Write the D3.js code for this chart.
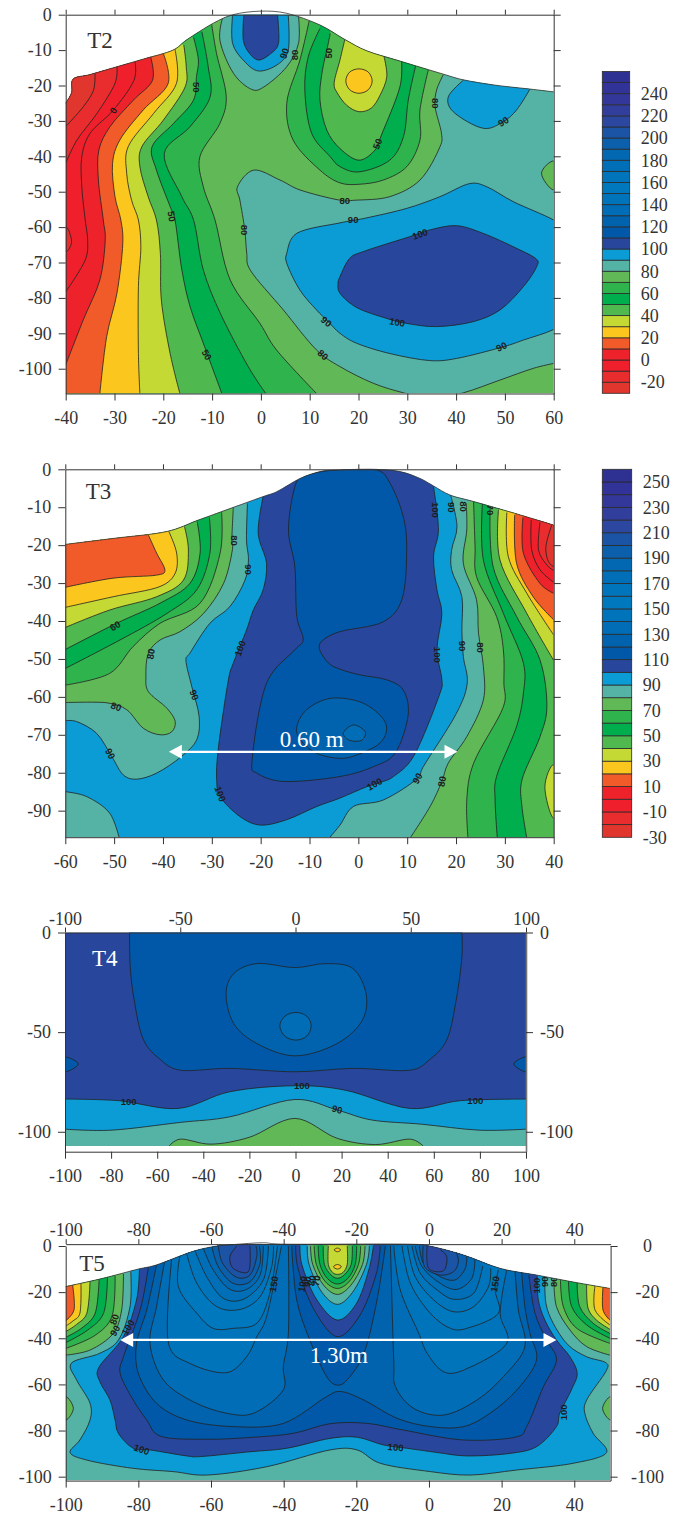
<!DOCTYPE html>
<html lang="en">
<head>
<meta charset="utf-8"/>
<title>T2 T3 T4 T5 contour sections</title>
<style>
body { margin: 0; background: #fff; }
svg { display: block; }
.tick text { font-family: "Liberation Serif", serif; font-size: 18px; fill: #333; }
.axis path, .axis line { stroke: #333; }
.lab { font-family: "Liberation Sans", sans-serif; font-size: 9.5px; font-weight: bold; fill: #1c1c1c; text-anchor: middle; }
.big { font-family: "Liberation Serif", serif; font-size: 23px; }
</style>
</head>
<body>
<svg width="684" height="1514"></svg>
<script src="https://d3js.org/d3.v7.min.js"></script>
<script>
// legend bands, from -30 upward in steps of 10
var bandStart = d3.range(-30, 260, 10);
var bandColors = ["#e0362e","#e92c2d","#ef1f2b","#ee222a","#f15a29","#fbc61e","#c4d933","#4fb84f","#00ae4d","#2fb34d","#61b857","#55b3a5","#0b9bd5","#28479c","#0258a8","#0163ae","#016db6","#0074bb","#0078be","#0075bc","#006fb7","#0268b2","#0b5fab","#1b53a5","#2b47a0","#313e9b","#333799","#313398","#2e3192"];
var t2LegendTicks = [-20,0,20,40,60,80,100,120,140,160,180,200,220,240];
var t3LegendTicks = [-30,-10,10,30,50,70,90,110,130,150,170,190,210,230,250];

var t2XTicks = [-40,-30,-20,-10,0,10,20,30,40,50,60];
var t2YTicks = [0,-10,-20,-30,-40,-50,-60,-70,-80,-90,-100];
var t3XTicks = [-60,-50,-40,-30,-20,-10,0,10,20,30,40];
var t3YTicks = [0,-10,-20,-30,-40,-50,-60,-70,-80,-90];
var t4TopTicks = [-100,-50,0,50,100];
var t4XTicks = [-100,-80,-60,-40,-20,0,20,40,60,80,100];
var t4YTicks = [0,-50,-100];
var t5XTicks = [-100,-80,-60,-40,-20,0,20,40];
var t5YTicks = [0,-20,-40,-60,-80,-100];

// ground surface of each section
var t2Terrain = [[-40,-25],[-38.8,-22],[-38.5,-18.2],[-35,-16.9],[-29.5,-14.7],[-24,-12.5],[-18,-10],[-15.2,-7.1],[-9.75,-2.4],[-5.7,0],[-0.2,1],[5.3,0.4],[12.1,-2.9],[17.2,-7],[21.7,-10.2],[28.5,-13.1],[37.4,-16.8],[41.5,-18.4],[48,-19.9],[55.1,-21],[60,-21.8]];
var t3Terrain = [[-60,-19.8],[-50,-18.2],[-39.2,-16.4],[-33,-13.5],[-28.3,-11.3],[-19.5,-7.2],[-16.7,-5.9],[-11.9,-2.4],[-7.8,-0.6],[-4.4,-0.2],[3.1,0],[8.5,-0.6],[12.6,-2.4],[15.4,-4.4],[18.8,-6.8],[23.6,-8.5],[32,-11.6],[40,-14.7]];
var t5Terrain = [[-100,-17.6],[-90,-14.1],[-80,-10],[-75,-8.2],[-65.3,-2.5],[-59.4,-0.3],[-53.9,0.6],[-45.6,1.4],[-40,0.8],[-6,0.8],[0,0],[9.5,-3.9],[19.6,-9.7],[29.6,-12.6],[40,-15.7],[49.8,-18.4]];

// contours: [band below/inside, closing corners (null = closed loop, "up" = closed over the ground), points]
var TL2 = [[-40,5]], BL2 = [[-40,-108],[-40,5]];
var t2Contours = [
 [60,BL2,[[-10.1,-2.6],[-9.1,-10.9],[-7.1,-23.2],[-8.4,-30.7],[-12.5,-40.1],[-11.8,-48.6],[-9.4,-58],[-6.3,-74.9],[-0.2,-87.2],[3.2,-94.7],[11.4,-107]]],
 [50,BL2,[[-12.1,-4.8],[-10.8,-14.7],[-10.4,-23.2],[-14.5,-31.6],[-19.8,-39.2],[-16.2,-51.4],[-13.8,-58],[-11.8,-72.1],[-8.3,-84.4],[-2.6,-99.4],[1,-107]]],
 [40,BL2,[[-13.8,-6.4],[-12.8,-12.8],[-13.2,-17.5],[-13.8,-24.1],[-17.9,-30.7],[-22.3,-37.3],[-21.4,-43.9],[-18.6,-54.2],[-17.6,-58],[-16.2,-72.1],[-14.5,-82.5],[-11.8,-92.8],[-8,-107]]],
 [30,BL2,[[-15.8,-8.6],[-15.3,-14.7],[-15.5,-20.3],[-20,-29.8],[-24.4,-37.3],[-24.8,-42.9],[-23.1,-51.4],[-21.4,-58],[-20.6,-67.4],[-20.4,-80.6],[-18.6,-95.7],[-16.6,-107]]],
 [20,BL2,[[-17.6,-9.8],[-17.3,-19.4],[-22,-27.9],[-27.2,-37.3],[-27.5,-44.8],[-26.5,-52.4],[-25.1,-58],[-24.6,-65.5],[-25.1,-76.8],[-25.1,-95.7],[-24.8,-107]]],
 [10,BL2,[[-20,-10.9],[-19,-19.4],[-24.1,-26.9],[-28.9,-35.4],[-30.4,-42],[-29.9,-51.4],[-28.7,-58],[-28.3,-64.6],[-29.5,-78.7],[-31.6,-90.9],[-33,-107]]],
 [0,TL2,[[-22.6,-11.9],[-22.2,-18.5],[-26.1,-24.1],[-30.9,-31.6],[-33.2,-38.2],[-33.3,-46.7],[-32.3,-58],[-31.9,-63.6],[-33,-74.9],[-36.4,-86.2],[-40,-98.9]]],
 [-10,TL2,[[-25.8,-13.3],[-26,-18.5],[-30.2,-26.9],[-35,-33.5],[-36.7,-40.1],[-36.7,-48.6],[-36,-58],[-35.5,-63.7],[-36,-69.3],[-40,-78.3]]],
 [-20,TL2,[[-29.5,-14.7],[-29.9,-19.4],[-33.6,-27.9],[-37.7,-35.4],[-40,-42]]],
 [-30,TL2,[[-34,-16.6],[-34.3,-21.3],[-36.4,-26],[-40,-31.6]]],
 [-20,null,[[-40,-59.9],[-38.8,-64.1],[-40,-66.9],[-42,-63.4]]],
 [80,[[60,5]],[[37.4,-16.9],[36,-21.3],[35.7,-26],[37,-33.5],[36.7,-37.3],[32.6,-46.7],[26.4,-51.4],[19.3,-52.4],[16.2,-52.4],[8,-49.5],[3.9,-46.7],[-1.5,-43.9],[-4.8,-48.6],[-4.3,-52.4],[-3.3,-60.8],[-2.9,-67.4],[-2.2,-72.1],[4.6,-83.4],[11.4,-94.7],[16.2,-99.4],[23,-104.1],[29.2,-106.8],[35,-108.5],[41.5,-106.8],[49,-103.2],[55.8,-99.9],[60,-98.5]]],
 [70,null,[[60,-41.3],[57.5,-44.8],[60,-49.5],[62,-45]]],
 [60,"up",[[9.9,-1.7],[8,-12.8],[5.3,-25],[6.6,-35.4],[12.1,-43.9],[16.2,-47.5],[20.1,-47.9],[25.1,-46.7],[29.9,-42.9],[32.6,-35.4],[32.6,-26.9],[34.3,-15.6]]],
 [50,"up",[[12.1,-3.9],[9.7,-11.9],[9,-21.3],[10.4,-33.5],[14.2,-40.1],[16.2,-42.9],[20.1,-44.4],[26.4,-41.1],[29.2,-34.5],[30.2,-24.1],[31.7,-14.5]]],
 [40,"up",[[14.2,-5.3],[13.8,-8.1],[12.5,-16.6],[12.1,-24.1],[13.5,-32.6],[16.2,-37.8],[20.1,-41.1],[23.4,-38.2],[24.7,-34],[28.5,-20.3],[28.8,-12.8]]],
 [30,"up",[[17.2,-7],[16.2,-12.8],[15,-19.4],[15.6,-22],[17.6,-25.6],[20.1,-27.4],[22.6,-26.4],[24.4,-22.8],[25.8,-17.5],[25.2,-11.7]]],
 [20,null,[[20.1,-15.3],[22,-16.2],[22.8,-18.7],[22,-21.2],[20.1,-22.2],[18.2,-21.2],[17.4,-18.7],[18.2,-16.2]]],
 [80,"up",[[-7.8,-0.6],[-8.4,-7.2],[-5.6,-16.6],[-1.9,-21.1],[0.5,-20.5],[5.3,-14.7],[7.7,-8.1],[7.7,-0.4]]],
 [90,"up",[[-5.8,0],[-5.8,-8.1],[-3.5,-13],[-0.5,-15.9],[3.5,-14],[5.6,-10],[5.6,0]]],
 [100,"up",[[-3.5,0],[-3.6,-7.2],[-2.4,-10.8],[-0.5,-12.8],[2,-11],[3.6,-8.1],[3.4,0]]],
 [90,"up",[[41.5,-18.5],[38.4,-23.2],[39.4,-27.4],[45.6,-32.1],[49.7,-30.2],[52.4,-26.9],[55.1,-21.1]]],
 [90,null,[[16.2,-90],[13.8,-86.7],[11.4,-83.4],[8,-77.8],[5.3,-70.2],[5.3,-67.4],[7.3,-61.8],[16.2,-58.8],[21.3,-57.5],[29.9,-54.7],[36.7,-51.4],[42.8,-47.7],[46.3,-48.6],[51.7,-52.8],[60,-58],[64,-62],[64,-85],[60,-88.9],[53.8,-91.9],[49.7,-93.8],[40.1,-97.1],[34.6,-97.7],[26.4,-95.7],[19.6,-92.8]]],
 [100,null,[[16.2,-78.7],[19.6,-82.7],[25.8,-85.8],[29.9,-87.2],[36,-88.1],[43.5,-86.7],[49,-83.4],[53.8,-76.8],[56.5,-71.2],[56.5,-69.1],[52.4,-66],[45.6,-61.8],[40.1,-59.6],[34.6,-60.8],[30.5,-62.7],[21,-66.9],[18.2,-68.8],[16.2,-74],[15.8,-76]]]
];
var t2Labels = [["0",-30.2,-27.1,-60],["50",-13.2,-20.5,90],["50",-18.3,-57,80],["50",-11.1,-96.1,60],["80",-3.4,-60.8,90],["90",4.8,-10.9,-70],["80",7,-11.4,-90],["50",13.8,-10.9,-90],["80",12.7,-96.1,40],["90",13.4,-86.7,40],["100",32.6,-62,-20],["100",27.9,-86.9,10],["90",49.3,-93.8,-25],["90",49.7,-30.2,-30],["50",23.9,-36.5,-70],["80",35.7,-25,90],["80",17.2,-52.4,0],["90",18.9,-57.8,0]];

var TL3 = [[-60,5]], RE3 = [[45,5]], BR3 = [[45,-100],[45,5]];
var t3Contours = [
 [80,TL3,[[-22.7,-9],[-22.9,-18.6],[-22.5,-23.9],[-23.2,-29.2],[-26.3,-36.2],[-30.4,-40.6],[-34.5,-48.5],[-35.3,-50.3],[-34.1,-57.3],[-32.6,-65.2],[-33.1,-71.3],[-36.2,-75.7],[-41.3,-80.1],[-45.4,-81.7],[-48.1,-80.6],[-50.5,-75.7],[-53.6,-69.6],[-57.7,-66.5],[-60,-66.3]]],
 [80,[[-60,-98]],[[-60,-85],[-55.6,-86.3],[-50.9,-90.7],[-48.8,-98]]],
 [70,TL3,[[-25.6,-10],[-25.9,-18.6],[-25.8,-21.3],[-27.6,-30.1],[-31.7,-38],[-36.5,-42.8],[-40.6,-45],[-43,-48.5],[-43.5,-54.7],[-43,-58.6],[-39.2,-63],[-37.5,-66.5],[-38.2,-69.2],[-40.6,-70],[-44,-68.3],[-47.4,-63.4],[-50.9,-61.7],[-54.3,-61.4],[-60,-61.5]]],
 [60,TL3,[[-28,-11.3],[-28.3,-22.1],[-32.4,-35.3],[-40.6,-40.6],[-46.1,-46.7],[-50.9,-53.8],[-60,-56.9]]],
 [50,TL3,[[-30.5,-12.7],[-30.4,-22.1],[-33.1,-31.8],[-39.2,-38],[-48.8,-45],[-60,-52.5]]],
 [40,TL3,[[-33,-13.8],[-32.4,-22.1],[-34.5,-30.1],[-40.6,-35.3],[-49.5,-40.6],[-60,-47.5]]],
 [30,TL3,[[-35.6,-15.1],[-34.8,-21.3],[-35.8,-29.2],[-41.3,-33.6],[-50.9,-37.1],[-60,-41.7]]],
 [20,TL3,[[-38.8,-16.4],[-37.2,-22.1],[-37.5,-27.4],[-40.6,-30.9],[-50.2,-33.6],[-60,-36.4]]],
 [10,TL3,[[-43,-17.3],[-41.3,-22.1],[-39.6,-26.7],[-41.3,-27.9],[-50.2,-28.7],[-60,-31.1]]],
 [80,BR3,[[18.9,-6.8],[20.2,-15.1],[19.1,-21.3],[19.1,-26.5],[21.2,-33.6],[21.2,-42.4],[21.5,-49.4],[22.3,-56.4],[20.1,-64.3],[13.3,-78.4],[12.1,-81.5],[5.1,-87.2],[-1,-88.9],[-3.75,-93.8],[-5.8,-97],[-7,-99]]],
 [70,BR3,[[22.1,-9],[22.2,-16],[21.5,-24.8],[24.2,-34.4],[24.6,-43.2],[25.6,-52],[25.6,-60.8],[22.2,-70.5],[18.4,-77.5],[17.1,-82.3],[14.7,-88.9],[10.2,-98]]],
 [60,BR3,[[23.6,-8.5],[23.9,-20.4],[24.2,-28.3],[28.3,-38.8],[29.7,-47.6],[29.8,-56.4],[29.7,-62.6],[23.6,-77.5],[22.2,-87.2],[22.5,-98]]],
 [50,BR3,[[25.4,-9.1],[25.6,-23.9],[29.7,-38],[33.8,-51.1],[33.8,-59],[32.4,-67.8],[28.3,-81],[28,-87.2],[28.5,-98]]],
 [40,BR3,[[27,-9.8],[27.6,-25.7],[32.4,-38.8],[37.2,-50.3],[38.6,-62.6],[37.2,-70.5],[33.5,-81.9],[33.5,-88.9],[34.6,-98]]],
 [30,RE3,[[28.7,-10.7],[29,-23.9],[34.5,-38],[40,-50.4]]],
 [20,RE3,[[30.4,-11.4],[30.7,-23],[34.5,-32.7],[40,-43.7]]],
 [10,RE3,[[32,-12],[32.4,-24.8],[35.8,-33.6],[40,-39.7]]],
 [0,RE3,[[33.7,-12.7],[33.8,-22.1],[37.2,-30.1],[40,-32.7]]],
 [-10,RE3,[[35.4,-13.4],[35.5,-21.3],[37.2,-26.5],[40,-29.8]]],
 [-20,RE3,[[37.2,-14],[36.9,-21.3],[38.6,-25.2],[40,-26.7]]],
 [-30,RE3,[[39.6,-14.7],[38.4,-20.4],[38.9,-24.3],[40,-25.7]]],
 [30,null,[[40,-77.9],[38.2,-83.7],[40,-92],[42,-85]]],
 [100,"up",[[-19.5,-7.2],[-20.5,-16.9],[-18.8,-24.8],[-19.5,-31.8],[-21.5,-37.1],[-22.9,-42.4],[-25.6,-51.1],[-26.6,-55.5],[-28.7,-74],[-29,-81.9],[-28.3,-86.3],[-24.2,-91.6],[-20.1,-93.8],[-14.7,-92.4],[-8.5,-88.9],[-3.8,-86.7],[1.7,-83.7],[5.1,-82.3],[7.2,-81],[11.3,-75.7],[16.7,-59.1],[17.1,-55.5],[16.1,-47.6],[17.1,-38],[16.1,-31.8],[15.4,-23],[16.4,-16],[15.4,-4.6]]],
 [110,null,[[-5.1,-0.2],[3.8,-0.2],[6.5,-3.7],[9.2,-12.5],[9.9,-21.3],[8.9,-34.4],[5.1,-40.2],[-3.75,-42.8],[-7.2,-45],[-8,-47.2],[-6.1,-51.1],[-3.75,-52.7],[0.3,-54.2],[5.8,-55.5],[9.2,-58.2],[10.2,-64.8],[7.5,-74.9],[3.1,-78.4],[-3.75,-81],[-15.4,-82.3],[-20.8,-80.1],[-21.8,-77.5],[-18.8,-56.4],[-13,-47.6],[-11.3,-45],[-12.6,-38.8],[-13,-25.7],[-14.3,-16],[-13,-4.6],[-11.3,-1.9]]],
 [120,null,[[-12.6,-67.9],[-10.6,-63.4],[-5.8,-60.4],[0.3,-61.3],[4.4,-64.8],[5.8,-68.3],[4.4,-72.2],[-0.3,-75.3],[-3.75,-76.2],[-8.5,-74.9],[-11.9,-71.3]]],
 [130,null,[[-3.1,-69.6],[-1,-67.4],[1.4,-69.2],[0.7,-71.4],[-1.7,-71.5]]]
];
var t3Labels = [["60",-49.8,-41.3,-30],["80",-42.5,-48.7,-80],["100",-24.2,-47.2,-70],["90",-22.5,-26.4,90],["80",-25.4,-18.8,90],["80",-49.6,-62.6,20],["90",-33.6,-59.5,70],["90",-50.8,-75,60],["100",-28.3,-85.6,70],["100",15.7,-10.7,90],["90",19,-10,90],["80",21.4,-9.8,90],["70",27,-10.7,90],["100",16.1,-48.9,90],["90",21.2,-46.6,90],["80",24.9,-47,90],["100",3.3,-83,-30],["90",12.1,-81.5,-60],["80",17.1,-82.3,-80]];

var BOT4 = [[100,-112],[-100,-112]];
var t4Contours = [
 [110,"up",[[-72,0],[-71.7,-17.2],[-70,-33.9],[-65.9,-54],[-58.4,-64],[-50,-69.1],[-28.5,-68.2],[-0.2,-69.9],[24.8,-68.2],[49.8,-69.1],[58,-64],[65.6,-54],[69.7,-33.9],[72.2,-12.2],[72.2,0]]],
 [120,null,[[-0.2,-17.6],[13.1,-15.6],[24.8,-18],[30.6,-30.6],[29,-44],[18.1,-55.7],[-0.2,-61.9],[-16.8,-55.7],[-26.8,-45.7],[-30.1,-30.6],[-26.8,-20.6],[-16.8,-15.6]]],
 [130,null,[[0.2,-40.1],[4.9,-42],[6.8,-46.8],[4.9,-52],[0.2,-54],[-4.6,-52],[-6.8,-46.8],[-4.6,-42]]],
 [110,null,[[-100,-62.4],[-94.2,-66],[-100,-69.9],[-102,-66]]],
 [110,null,[[100,-62.4],[94.7,-66],[100,-69.9],[102,-66]]],
 [90,BOT4,[[-100,-83.6],[-76.7,-84.4],[-50.9,-88.3],[-28.5,-79.9],[-0.2,-76.9],[21.5,-79.1],[49.8,-88.3],[71.5,-84.4],[100,-83.6]]],
 [80,BOT4,[[-100,-98.7],[-80,-99.2],[-50,-95.3],[-28.5,-92.5],[-0.2,-83.8],[18.1,-89.1],[33.1,-94.1],[54.7,-96.2],[79.7,-99.2],[100,-98.7]]],
 [70,BOT4,[[-55,-107.4],[-50,-103.7],[-36.7,-106.2],[-20.1,-102.8],[-0.2,-93.3],[18.1,-103.3],[34.8,-106.4],[49.8,-103.7],[55.6,-107.4]]]
];
var t4Labels = [["100",-72.4,-85,0],["100",2.8,-77.1,0],["90",18.1,-88.8,15],["100",78,-84.4,0]];

var TL5 = [[-100,8]], TR5 = [[52,8]];
var t5Contours = [
 [70,TL5,[[-84.1,-12.1],[-84.6,-27.7],[-86.9,-37.9],[-93.3,-45.1],[-100,-47.3]]],
 [60,TL5,[[-86.4,-13],[-87.3,-30.6],[-92,-38.8],[-100,-44.4]]],
 [50,TL5,[[-88.5,-13.6],[-89.6,-29.2],[-94,-36.5],[-100,-41.9]]],
 [40,TL5,[[-90.8,-14.3],[-91.9,-29.2],[-95.5,-35.5],[-100,-39.6]]],
 [30,TL5,[[-93.3,-15.2],[-94.2,-29.2],[-97,-34],[-100,-37.1]]],
 [20,TL5,[[-95.8,-16.2],[-96.1,-29.2],[-98,-32.5],[-100,-34.7]]],
 [10,TL5,[[-98.1,-16.9],[-97.7,-27.7],[-100,-32.4]]],
 [70,TR5,[[34.4,-14.3],[35.1,-26.3],[38.8,-36.4],[43.4,-43.6],[49.8,-47.3]]],
 [60,TR5,[[36.2,-14.7],[37,-26.3],[40.7,-35.7],[49.8,-42.2]]],
 [50,TR5,[[38.4,-15.2],[39.3,-26.3],[43.4,-34.2],[49.8,-40]]],
 [40,TR5,[[40.8,-15.8],[41.5,-26.3],[45.2,-33.5],[49.8,-37.9]]],
 [30,TR5,[[43.4,-16.5],[43.8,-27],[46.1,-32.1],[49.8,-36.1]]],
 [20,TR5,[[45.7,-17.2],[45.7,-27.7],[49.8,-34.2]]],
 [10,TR5,[[47.9,-17.9],[47.9,-27.7],[49.8,-32.1]]],
 [70,null,[[-100,-65.3],[-97.9,-70.4],[-100,-75.4],[-102,-70]]],
 [70,null,[[50,-65.3],[47.8,-70.4],[50,-75.4],[52,-70]]],
 [90,"up",[[-82.1,-11.1],[-82.3,-26.3],[-85.5,-40.8],[-90.6,-46.5],[-98.5,-50.9],[-97,-58.1],[-93.3,-68.2],[-93.3,-75.4],[-96.1,-84.1],[-98.8,-89.5],[-94.2,-92.8],[-81.4,-96.4],[-70.4,-97.8],[-61.2,-99.3],[-44.7,-95.7],[-27.2,-88.4],[-19.8,-88.4],[-13.4,-94.2],[0.4,-97.8],[11.3,-99.3],[24.2,-97.1],[39.7,-94.2],[48.9,-89.5],[45.2,-81.2],[42.9,-72.5],[43.4,-66.8],[48.9,-53.8],[48.7,-50.6],[43.4,-48],[38.3,-42.9],[34.2,-33.5],[32.2,-24.9],[31.9,-13.7]]],
 [100,"up",[[-79.7,-10],[-80.5,-23.4],[-84.1,-39.3],[-91,-53],[-90.6,-58.8],[-87.8,-66.8],[-86.4,-75.4],[-85.5,-81.2],[-81.4,-87.7],[-76.8,-88.4],[-66.7,-91],[-63,-91.3],[-49.3,-89.2],[-39.2,-87.7],[-27.2,-83.4],[-19.8,-82.9],[-12.4,-86.3],[-6,-87.7],[2.2,-89.5],[10.4,-91],[22.3,-89.9],[29.6,-87],[35.1,-78.3],[36,-72.5],[39.2,-62.4],[40.8,-55.2],[38.8,-48],[35.1,-40.8],[31.9,-32.1],[30.1,-23.4],[29.8,-13]]],
 [110,"up",[[-77.2,-9],[-79.5,-27.7],[-84.1,-48],[-85,-55.2],[-81.4,-66.8],[-77.7,-75.4],[-74,-82.4],[-61.2,-83.8],[-48.3,-82.9],[-37.3,-81.2],[-27.1,-77],[-17,-76.9],[-7,-79.8],[9.5,-84.1],[24.2,-82.7],[26.9,-78.3],[31.5,-61],[35.1,-49.4],[32.4,-40.8],[29.2,-29.2],[27.5,-12.6]]],
 [120,"up",[[-75,-8.2],[-77.7,-27.7],[-80.5,-42.2],[-80,-55.2],[-75,-68.2],[-66.7,-75.4],[-53.9,-78.3],[-40.1,-76.9],[-28.2,-65.3],[-24.3,-63.1],[-17.9,-66.8],[-8.8,-74.7],[0.4,-78.3],[9.5,-78.3],[16.8,-72.5],[24.2,-62.4],[29.6,-49.4],[27.8,-37.9],[26.4,-26.3],[25.5,-11.1]]],
 [130,"up",[[-72.7,-6.1],[-75,-26.3],[-76.8,-42.2],[-73.1,-58.1],[-64.9,-67.5],[-55.7,-72.5],[-48.3,-72.5],[-40.1,-62.4],[-40.1,-52.3],[-38.7,-37.9],[-38.7,0]]],
 [130,"up",[[-10.6,0],[-9.7,-49.4],[-9.2,-61],[-4.2,-70.4],[4,-73.3],[13.2,-66.8],[20.5,-56.6],[26.4,-43.6],[24.6,-27.7],[23.7,-11.1]]],
 [140,"up",[[-70.8,-5.3],[-71.7,-42.2],[-65.8,-50.9],[-55.7,-54.9],[-50.2,-48],[-47.4,-39.3],[-44.7,-30.6],[-40.6,0]]],
 [140,"up",[[-9.7,0],[-7.9,-19],[-2.8,-37.9],[-0.5,-46.5],[4,-54.5],[9.5,-53.8],[21.4,-42.2],[19.6,-29.2],[21.4,-10.4]]],
 [150,"up",[[-68.5,-3.9],[-69,-17.6],[-63.9,-29.2],[-59.4,-35.7],[-53.9,-35.7],[-47.4,-33.5],[-43.8,-20.5],[-41.7,0]]],
 [150,"up",[[-7.4,0],[-5.1,-16.2],[0.4,-29.2],[5.9,-35.7],[10.4,-35.7],[19.1,-29.2],[18.2,-19],[19.1,-10.4]]],
 [160,"up",[[-66.7,-3.2],[-63.9,-16.2],[-58.4,-26.3],[-52,-27.5],[-46.5,-22],[-43.3,-9],[-42.8,0]]],
 [160,"up",[[-5.9,0],[-3.8,-13.3],[1.3,-23.4],[6.8,-28.5],[12.3,-26.3],[16.4,-17.6],[17,-9.7]]],
 [170,"up",[[-64.4,-2],[-61.2,-13.3],[-56.6,-22.7],[-51.1,-23.1],[-45.6,-14.7],[-44.2,0]]],
 [170,"up",[[-4.7,0],[-2.4,-11.8],[2.2,-19],[6.8,-23.1],[12.3,-20.5],[14.8,-8.7]]],
 [180,"up",[[-62.1,-1],[-59.4,-10.4],[-54.8,-18.8],[-50.2,-18.8],[-46.5,-12.6],[-45.6,0]]],
 [180,"up",[[-3.8,0],[-1.9,-9],[3.1,-16.2],[7.7,-18.8],[11.8,-14],[12.7,-4.6]]],
 [190,"up",[[-59.8,0],[-58,-9],[-53.9,-16.2],[-49.3,-15.5],[-46.5,-7.5],[-46.7,0]]],
 [190,"up",[[-2.6,0],[-1.5,-7.5],[3.1,-13.3],[7.2,-14.7],[10,-9.7],[10.4,-3.9]]],
 [200,"up",[[-58,0],[-56.8,-7.5],[-52.9,-13.6],[-49.3,-12.6],[-47.4,-4.6],[-47.6,0]]],
 [200,"up",[[-1.6,0],[-1.2,-9],[3.1,-12.6],[6.8,-11.1],[8.1,-6.8],[7.5,-2.5]]],
 [210,"up",[[-52.9,0],[-54.8,-4.6],[-53.9,-9.7],[-49.7,-11.1],[-49.3,0]]],
 [210,"up",[[-0.5,0],[-0.1,-9.7],[4,-10.7],[4.9,-4.6],[3.1,-1.7]]],
 [110,"up",[[-37.8,0],[-36.4,-23.4],[-32.8,-40.8],[-28,-57],[-25.2,-60.3],[-22.5,-58],[-17.9,-46.5],[-14.3,-23.4],[-12,0]]],
 [100,"up",[[-36.7,0],[-36,-10],[-31.5,-28],[-25.2,-39.3],[-19,-30],[-14.5,-12],[-13.4,0]]],
 [90,"up",[[-35.5,0],[-35,-8],[-31,-23],[-25.2,-32.1],[-20,-25],[-16.5,-10],[-15.3,0]]],
 [80,"up",[[-33.5,0],[-33,-8],[-29.5,-20],[-25.2,-25.3],[-21,-20],[-17.2,-8],[-16.4,0]]],
 [70,"up",[[-32.6,0],[-32,-8],[-29,-17],[-25.2,-21],[-21.5,-17],[-18.3,-8],[-17.6,0]]],
 [60,"up",[[-31.6,0],[-31,-8],[-28.5,-15.5],[-25.2,-18.4],[-22,-15.5],[-19.4,-8],[-18.8,0]]],
 [50,"up",[[-30.5,0],[-30,-8],[-28,-14],[-25.2,-16.5],[-22.3,-14],[-20.3,-8],[-19.9,0]]],
 [40,"up",[[-29.1,0],[-28.8,-8],[-27,-12.5],[-25.2,-14],[-23.3,-12.5],[-21.4,-8],[-21.1,0]]],
 [30,"up",[[-27.7,0],[-27.7,-8],[-26.5,-11.5],[-25.2,-12.3],[-23.7,-11.5],[-22.5,-8],[-22.5,0]]],
 [20,null,[[-25.2,-0.9],[-24.3,-1.7],[-25.2,-2.5],[-26.1,-1.7]]],
 [20,null,[[-25.2,-8],[-24.1,-9],[-25.2,-10],[-26.3,-9]]]
];
var t5Labels = [["80",-86.6,-31.8,-70],["90",-86.4,-36.7,-60],["100",-82.8,-35.3,-60],["150",-42.7,-16.5,-80],["100",-34.8,-16.5,-80],["90",-33.5,-15.5,-80],["80",-32.2,-15,-80],["70",-31,-15,-80],["100",-79.1,-88.2,20],["100",-9.2,-87.3,5],["100",37,-72.1,-90],["150",18.2,-16.5,-80],["100",29.6,-17.2,-90],["90",31.8,-15.5,-90],["80",34.4,-15.5,-90]];

var svg = d3.select("svg");
var lineGen = d3.line().curve(d3.curveCatmullRom.alpha(0.15));
var loopGen = d3.line().curve(d3.curveCatmullRomClosed.alpha(0.15));

function bandColor(b) { return bandColors[bandStart.indexOf(b)]; }

function panel(cfg) {
  var x = d3.scaleLinear().domain(cfg.xDomain).range(cfg.xRange);
  var y = d3.scaleLinear().domain(cfg.yDomain).range(cfg.yRange);
  var px = function(p) { return [x(p[0]), y(p[1])]; };
  var g = svg.append("g");
  var yTop = y(cfg.clipTop), yBot = y(cfg.clipBottom);

  var defs = g.append("defs");
  defs.append("clipPath").attr("id", cfg.id + "box").append("rect")
    .attr("x", cfg.xRange[0]).attr("y", yTop)
    .attr("width", cfg.xRange[1] - cfg.xRange[0]).attr("height", yBot - yTop);
  var groundPath = cfg.terrain ? lineGen(cfg.terrain.map(px)) : null;
  if (groundPath) {
    defs.append("clipPath").attr("id", cfg.id + "ground").append("path")
      .attr("d", groundPath + "L" + cfg.xRange[1] + "," + yBot + "L" + cfg.xRange[0] + "," + yBot + "Z");
  }

  var outer = g.append("g").attr("clip-path", "url(#" + cfg.id + "box)");
  var inner = groundPath ? outer.append("g").attr("clip-path", "url(#" + cfg.id + "ground)") : outer;
  inner.append("rect").attr("x", cfg.xRange[0]).attr("y", yTop)
    .attr("width", cfg.xRange[1] - cfg.xRange[0]).attr("height", yBot - yTop)
    .attr("fill", bandColor(cfg.base));

  cfg.contours.forEach(function(c) {
    var pts = c[2], close = c[1], d, ds;
    if (close === null) {
      d = ds = loopGen(pts.map(px));
    } else {
      var corners = close === "up" ? [[pts[pts.length - 1][0], 10], [pts[0][0], 10]] : close;
      ds = lineGen(pts.map(px));
      d = ds + corners.map(function(k) { return "L" + x(k[0]) + "," + y(k[1]); }).join("") + "Z";
    }
    inner.append("path").attr("d", d).attr("fill", bandColor(c[0]));
    inner.append("path").attr("d", ds).attr("fill", "none").attr("stroke", "#222").attr("stroke-width", 0.8);
  });

  // contour labels
  inner.selectAll("text.lab").data(cfg.labels).enter().append("text")
    .attr("class", "lab").attr("dy", "0.35em")
    .attr("transform", function(d) { return "translate(" + x(d[1]) + "," + y(d[2]) + ") rotate(" + d[3] + ")"; })
    .text(function(d) { return d[0]; });

  if (groundPath) {
    g.append("path").attr("d", groundPath).attr("fill", "none").attr("stroke", "#333").attr("stroke-width", 0.8);
  }

  // axes, all four sides
  var fmt = function(d) { return d; };
  var xB = cfg.xBottom, xT = cfg.xTop;
  g.append("g").attr("class", "axis").attr("transform", "translate(0," + cfg.yRange[1] + ")")
    .call(d3.axisBottom(x).tickValues(xB).tickFormat(fmt).tickSize(7).tickSizeOuter(0).tickPadding(cfg.padBottom));
  g.append("g").attr("class", "axis").attr("transform", "translate(0," + y(cfg.frameTop) + ")")
    .call(d3.axisTop(x).tickValues(xT).tickFormat(cfg.topLabels ? fmt : "").tickSize(5).tickSizeOuter(0).tickPadding(cfg.padTop));
  g.append("g").attr("class", "axis").attr("transform", "translate(" + cfg.xRange[0] + ",0)")
    .call(d3.axisLeft(y).tickValues(cfg.yTicks).tickFormat(fmt).tickSize(7).tickSizeOuter(0).tickPadding(7));
  var rightAxis = g.append("g").attr("class", "axis").attr("transform", "translate(" + cfg.xRange[1] + ",0)")
    .call(d3.axisRight(y).tickValues(cfg.yTicks).tickFormat(cfg.rightLabels ? fmt : "").tickSize(7).tickSizeOuter(0).tickPadding(cfg.padRight || 7));
  if (cfg.rightMiddle) rightAxis.selectAll("text").attr("text-anchor", "middle");
  if (cfg.rightThick) rightAxis.select(".domain").attr("stroke-width", 1.6).style("stroke", "#777");

  // section name
  g.append("text").attr("class", "big").attr("x", x(cfg.name[1])).attr("y", y(cfg.name[2]))
    .attr("fill", cfg.name[3]).text(cfg.name[0]);
  return {g: g, x: x, y: y};
}

function legend(top, bottom, left, right, ticks) {
  var ly = d3.scaleLinear().domain([-30, 260]).range([bottom, top]);
  var g = svg.append("g");
  g.selectAll("rect").data(bandStart).enter().append("rect")
    .attr("x", left).attr("width", right - left)
    .attr("y", function(d) { return ly(d + 10); })
    .attr("height", function(d) { return ly(d) - ly(d + 10); })
    .attr("fill", bandColor).attr("stroke", "#2b2b2b").attr("stroke-width", 0.8);
  var a = g.append("g").attr("class", "axis").attr("transform", "translate(" + right + ",0)")
    .call(d3.axisRight(ly).tickValues(ticks).tickFormat(function(d) { return d; }).tickSize(0).tickPadding(11));
  a.select(".domain").remove();
}

function arrow(p, x1, x2, yv) {
  var y0 = p.y(yv), a = p.x(x1), b = p.x(x2);
  p.g.append("line").attr("x1", a + 8).attr("x2", b - 8).attr("y1", y0).attr("y2", y0)
    .attr("stroke", "#fff").attr("stroke-width", 2.4);
  p.g.append("path").attr("fill", "#fff")
    .attr("d", "M" + a + "," + y0 + "l13,-7v14Z" + "M" + b + "," + y0 + "l-13,-7v14Z");
}

panel({
  id: "t2", xDomain: [-40, 60], xRange: [65.7, 553.7], yDomain: [0, -107], yRange: [14.7, 393.5],
  clipTop: 0, clipBottom: -107, frameTop: 0, base: 70, terrain: t2Terrain, contours: t2Contours, labels: t2Labels,
  xBottom: t2XTicks, xTop: t2XTicks, yTicks: t2YTicks, padBottom: 11, padTop: 3, name: ["T2", -35.6, -9.4, "#333"]
});
legend(71.5, 393.3, 602.3, 629.7, t2LegendTicks);

var p3 = panel({
  id: "t3", xDomain: [-60, 40], xRange: [65.3, 553.7], yDomain: [0, -97], yRange: [469.3, 837.2],
  clipTop: 0, clipBottom: -97, frameTop: 0, base: 90, terrain: t3Terrain, contours: t3Contours, labels: t3Labels,
  xBottom: t3XTicks, xTop: t3XTicks, yTicks: t3YTicks, padBottom: 11, padTop: 3, name: ["T3", -55.8, -7.8, "#333"]
});
legend(469.3, 837.3, 602.3, 631.7, t3LegendTicks);
arrow(p3, -38.8, 20.3, -74.5);
p3.g.append("text").attr("class", "big").attr("x", p3.x(-16.1)).attr("y", p3.y(-73.1)).attr("fill", "#fff").text("0.60 m");

panel({
  id: "t4", xDomain: [-100, 100], xRange: [65, 526], yDomain: [0, -110], yRange: [932.5, 1151.7],
  clipTop: 0, clipBottom: -107.2, frameTop: 0, base: 100, terrain: null, contours: t4Contours, labels: t4Labels,
  xBottom: t4XTicks, xTop: t4TopTicks, topLabels: true, rightLabels: true, rightThick: true, yTicks: t4YTicks, padBottom: 11, padTop: 3, padRight: 7,
  name: ["T4", -88.3, -17, "#fff"]
});

var p5 = panel({
  id: "t5", xDomain: [-100, 50], xRange: [65.7, 610.6], yDomain: [0, -101.7], yRange: [1246, 1480.6],
  clipTop: 0.8, clipBottom: -101.7, frameTop: 0.8, base: 80, terrain: t5Terrain, contours: t5Contours, labels: t5Labels,
  xBottom: t5XTicks, xTop: t5XTicks, topLabels: true, rightLabels: true, rightMiddle: true, yTicks: t5YTicks, padBottom: 11, padTop: 3, padRight: 30,
  name: ["T5", -96.3, -10.8, "#333"]
});
arrow(p5, -85, 35.1, -40.7);
p5.g.append("text").attr("class", "big").attr("x", p5.x(-32.8)).attr("y", p5.y(-50.6)).attr("fill", "#fff").text("1.30m");
</script>
</body>
</html>
